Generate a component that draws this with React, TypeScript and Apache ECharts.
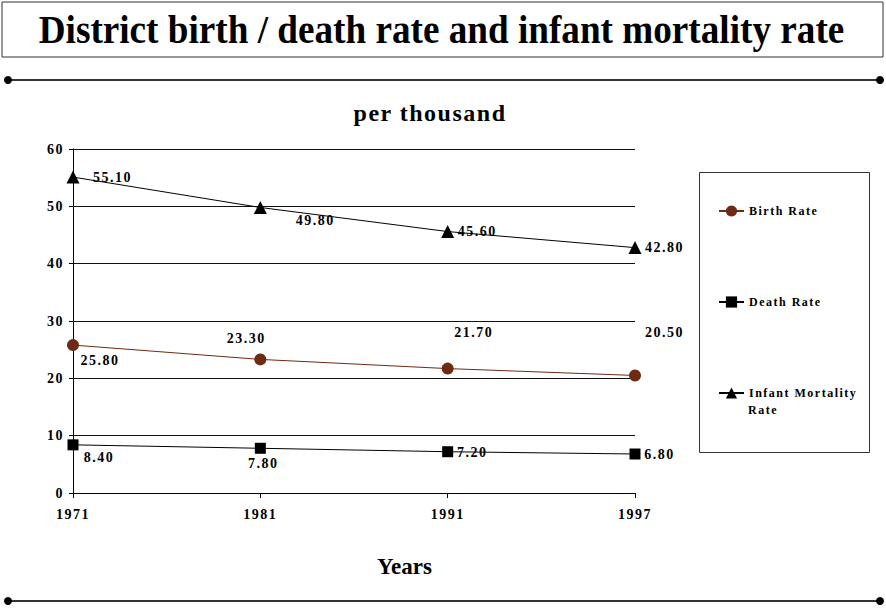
import React, { useEffect, useRef } from "react";
import * as echarts from "echarts";

// ---- data ----
const years: string[] = ["1971", "1981", "1991", "1997"];
const birthRate: number[] = [25.8, 23.3, 21.7, 20.5];
const deathRate: number[] = [8.4, 7.8, 7.2, 6.8];
const infantMortality: number[] = [55.1, 49.8, 45.6, 42.8];
const seriesNames: string[] = ["Birth Rate", "Death Rate", "Infant Mortality Rate"];
const yMin = 0;
const yMax = 60;
const yInterval = 10;

// ---- label placement (layout only) ----
const birthLabelOffsets: number[][] = [[27, 15], [-14, -20.5], [26, -36], [29.5, -43]];
const deathLabelOffsets: number[][] = [[26, 12.5], [3, 15.5], [24.5, 0.5], [24.5, 0]];
const infantLabelOffsets: number[][] = [[39.5, 0], [55, 13], [29.5, 0], [29.5, 0]];

const SPACED = "'Liberation Serif', spaced";
const SERIF = "'Liberation Serif'";
const BROWN = "#6f2a14";

function withLabels(values: number[], offsets: number[][]) {
  return values.map((v, i) => ({
    value: v,
    label: { offset: offsets[i] },
  }));
}

function lineSeries(name: string, values: number[], offsets: number[][], color: string, symbol: string, size: number) {
  return {
    name,
    type: "line",
    data: withLabels(values, offsets),
    symbol,
    symbolSize: size,
    showAllSymbol: true,
    itemStyle: { color },
    lineStyle: { color, width: 1 },
    emphasis: { disabled: true },
    label: {
      show: true,
      position: "inside",
      formatter: (p: any) => Number(p.value).toFixed(2),
      color: "#000",
      fontSize: 14,
      fontWeight: "bold",
      fontFamily: SPACED,
    },
  };
}

export default function App() {
  const ref = useRef<HTMLDivElement>(null);

  useEffect(() => {
    if (!ref.current) return;
    const chart = echarts.init(ref.current, undefined, { renderer: "svg" });
    chart.setOption({
      animation: false,
      backgroundColor: "#fff",
      grid: { left: 73, right: 251, top: 149, bottom: 117, containLabel: false },
      xAxis: {
        type: "category",
        data: years,
        boundaryGap: false,
        axisLine: { show: true, lineStyle: { color: "#000", width: 1 } },
        axisTick: { show: true, length: 5, alignWithLabel: true, lineStyle: { color: "#000" } },
        axisLabel: {
          color: "#000",
          fontSize: 14,
          fontWeight: "bold",
          fontFamily: SPACED,
          margin: 14,
        },
        splitLine: { show: false },
      },
      yAxis: {
        type: "value",
        min: yMin,
        max: yMax,
        interval: yInterval,
        axisLine: { show: true, lineStyle: { color: "#000", width: 1 } },
        axisTick: { show: true, length: 4, lineStyle: { color: "#000" } },
        axisLabel: {
          color: "#000",
          fontSize: 14,
          fontWeight: "bold",
          fontFamily: SPACED,
          margin: 9,
        },
        splitLine: { show: true, lineStyle: { color: "#111", width: 1 } },
      },
      legend: {
        orient: "vertical",
        left: 718,
        top: 204,
        padding: 0,
        itemWidth: 25,
        itemHeight: 14,
        itemGap: 77,
        selectedMode: false,
        data: seriesNames,
        formatter: (name: string) => (name === "Infant Mortality Rate" ? "Infant Mortality" : name),
        textStyle: {
          color: "#000",
          fontSize: 12,
          fontWeight: "bold",
          fontFamily: SPACED,
          lineHeight: 14,
        },
      },
      graphic: [
        {
          type: "rect",
          shape: { x: 2, y: 2, width: 881, height: 55 },
          style: { fill: "#fff", stroke: "#333", lineWidth: 1 },
          z: 0,
        },
        {
          type: "text",
          x: 441.5,
          y: 30,
          scaleX: 0.93,
          style: {
            text: "District birth / death rate and infant mortality rate",
            fontSize: 40,
            fontWeight: "bold",
            fontFamily: SERIF,
            fill: "#000",
            align: "center",
            verticalAlign: "middle",
          },
          z: 1,
        },
        {
          type: "line",
          shape: { x1: 8, y1: 80, x2: 880, y2: 80 },
          style: { stroke: "#333", lineWidth: 2 },
        },
        { type: "circle", shape: { cx: 8, cy: 80, r: 4 }, style: { fill: "#000" } },
        { type: "circle", shape: { cx: 880, cy: 80, r: 4 }, style: { fill: "#000" } },
        {
          type: "line",
          shape: { x1: 8, y1: 601, x2: 880, y2: 601 },
          style: { stroke: "#333", lineWidth: 2 },
        },
        { type: "circle", shape: { cx: 8, cy: 601, r: 4 }, style: { fill: "#000" } },
        { type: "circle", shape: { cx: 880, cy: 601, r: 4 }, style: { fill: "#000" } },
        {
          type: "text",
          x: 430,
          y: 113,
          style: {
            text: "per thousand",
            fontSize: 24,
            fontWeight: "bold",
            fontFamily: SPACED,
            fill: "#000",
            align: "center",
            verticalAlign: "middle",
          },
        },
        {
          type: "text",
          x: 404.5,
          y: 566,
          style: {
            text: "Years",
            fontSize: 23,
            fontWeight: "bold",
            fontFamily: SERIF,
            fill: "#000",
            align: "center",
            verticalAlign: "middle",
          },
        },
        {
          type: "rect",
          shape: { x: 699.5, y: 172.5, width: 170, height: 280 },
          style: { fill: "none", stroke: "#333", lineWidth: 1 },
        },
        {
          type: "text",
          x: 748,
          y: 410,
          style: {
            text: "Rate",
            fontSize: 12,
            fontWeight: "bold",
            fontFamily: SPACED,
            fill: "#000",
            align: "left",
            verticalAlign: "middle",
          },
        },
      ],
      series: [
        lineSeries(seriesNames[0], birthRate, birthLabelOffsets, BROWN, "circle", 12),
        lineSeries(seriesNames[1], deathRate, deathLabelOffsets, "#000", "rect", 11),
        lineSeries(seriesNames[2], infantMortality, infantLabelOffsets, "#000", "triangle", 13),
      ],
    });
    return () => chart.dispose();
  }, []);

  return (
    <>
      <style>{`text[style*="spaced"]{letter-spacing:1.5px;}`}</style>
      <div
        ref={ref}
        style={{ position: "absolute", left: 0, top: 0, width: 886, height: 610 }}
      />
    </>
  );
}
